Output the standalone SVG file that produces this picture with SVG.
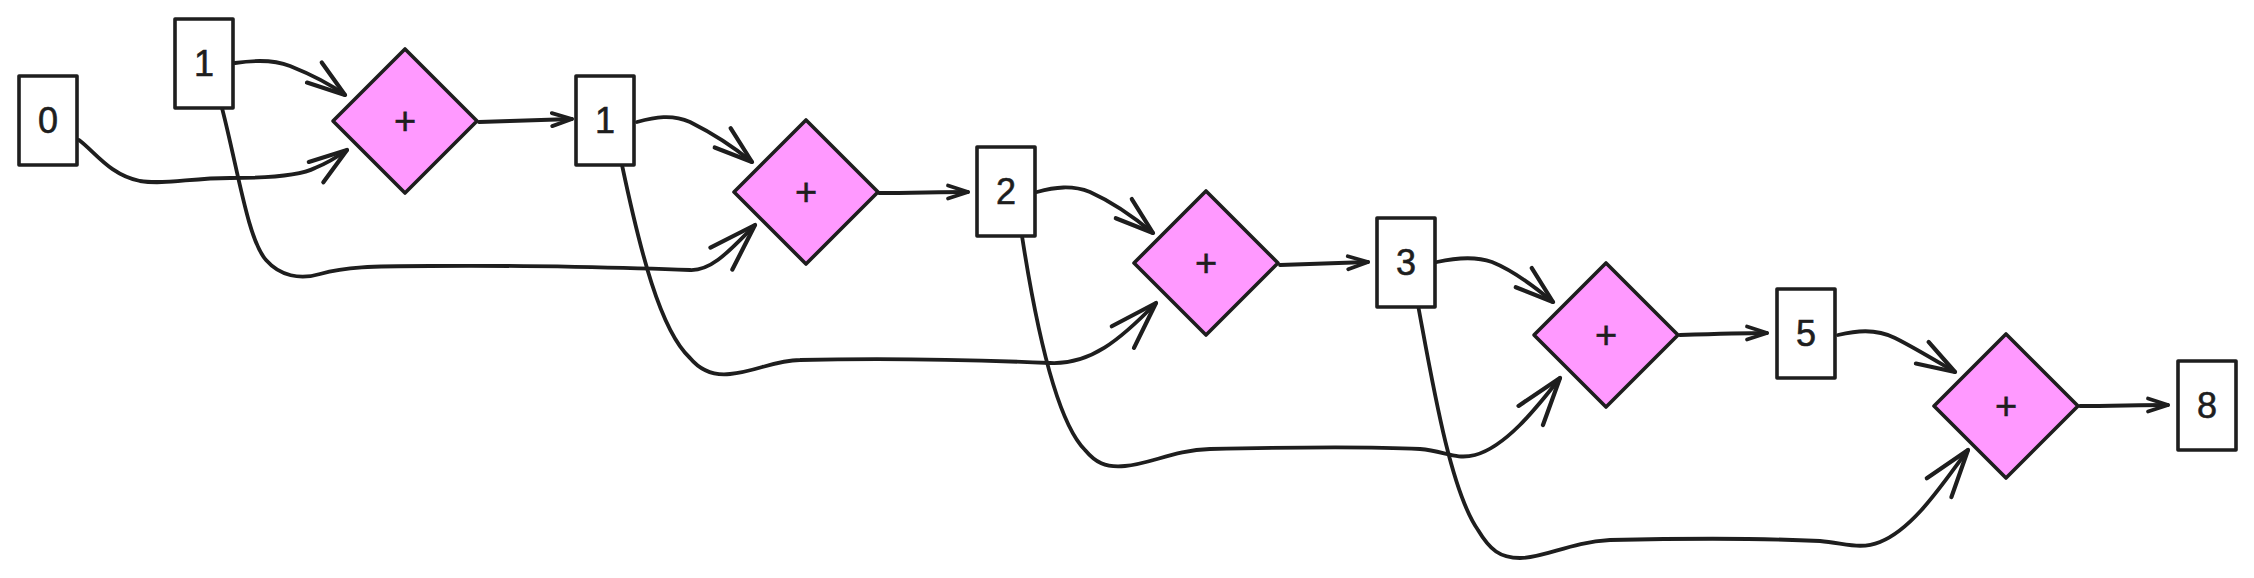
<svg xmlns="http://www.w3.org/2000/svg" width="2254" height="578" viewBox="0 0 2254 578">
<style>
.box{fill:#ffffff;stroke:#1e1e1e;stroke-width:3.6;stroke-linejoin:round}
.dia{fill:#ff99ff;stroke:#1e1e1e;stroke-width:3.6;stroke-linejoin:round}
.num{font-family:"Liberation Sans",Arial,sans-serif;font-size:36px;fill:#1e1e1e;text-anchor:middle;stroke:#1e1e1e;stroke-width:0.6}
.plus{font-family:"Liberation Sans",Arial,sans-serif;font-size:38px;fill:#1e1e1e;text-anchor:middle;stroke:#1e1e1e;stroke-width:0.6}
.con path{fill:none;stroke:#1e1e1e;stroke-width:3.8;stroke-linecap:round;stroke-linejoin:round}
.s{marker-end:url(#ahs)}
.b{marker-end:url(#ahb)}
.h{marker-end:url(#ahh)}
</style>
<defs>
<marker id="ahs" viewBox="-24 -10 28 20" markerWidth="28" markerHeight="20" refX="0" refY="0" orient="auto" markerUnits="userSpaceOnUse">
<path d="M-20,-6.5 L0,0 L-20,6.5" fill="none" stroke="#1e1e1e" stroke-width="3.8" stroke-linecap="round" stroke-linejoin="round"/>
</marker>
<marker id="ahb" viewBox="-42 -16 46 32" markerWidth="46" markerHeight="32" refX="0" refY="0" orient="auto" markerUnits="userSpaceOnUse">
<path d="M-38,-12.5 L0,0 L-38,12.5" fill="none" stroke="#1e1e1e" stroke-width="4.2" stroke-linecap="round" stroke-linejoin="round"/>
</marker>
<marker id="ahh" viewBox="-52 -20 56 40" markerWidth="56" markerHeight="40" refX="0" refY="0" orient="auto" markerUnits="userSpaceOnUse">
<path d="M-47.5,-15.5 L0,0 L-47.5,15.5" fill="none" stroke="#1e1e1e" stroke-width="4.2" stroke-linecap="round" stroke-linejoin="round"/>
</marker>
</defs>

<g id="connectors" class="con">
<!-- into diamond 1 -->
<path class="b" d="M235,63 C255,60 275,60 290,66 C310,74 330,84 345,95"/>
<path class="b" d="M79,140 C95,152 110,175 140,181 C165,185 190,178 230,178 C270,178 300,176 315,168 C330,162 340,155 347,150"/>
<path class="s" d="M479,122 C510,121 540,120 572,119"/>
<!-- into diamond 2 -->
<path class="b" d="M637,122 C655,117 672,114 690,122 C710,132 735,148 752,162"/>
<path class="h" d="M222,108 C238,170 248,240 266,260 C280,276 300,280 320,274 C345,267 370,266 430,266 C520,265 640,268 690,270 C712,271 730,250 755,225"/>
<path class="s" d="M879,193 C910,193 940,192 968,192"/>
<!-- into diamond 3 -->
<path class="b" d="M1037,192 C1055,187 1072,185 1090,192 C1110,201 1135,218 1153,233"/>
<path class="h" d="M622,165 C640,250 660,330 690,358 C700,370 712,376 730,374 C755,372 775,360 800,360 C880,358 980,360 1050,363 C1090,365 1120,340 1156,303"/>
<path class="s" d="M1280,265 C1310,264 1340,263 1368,262"/>
<!-- into diamond 4 -->
<path class="b" d="M1437,262 C1455,258 1475,256 1492,262 C1512,270 1535,287 1553,302"/>
<path class="h" d="M1022,236 C1035,320 1055,420 1085,450 C1095,462 1105,468 1125,466 C1150,464 1175,450 1210,449 C1300,447 1380,447 1420,449 C1445,451 1455,460 1475,455 C1505,447 1535,410 1560,378"/>
<path class="s" d="M1680,335 C1710,334 1740,333 1767,333"/>
<!-- into diamond 5 -->
<path class="b" d="M1838,335 C1855,331 1875,328 1895,338 C1915,348 1938,362 1955,372"/>
<path class="h" d="M1418,305 C1432,380 1450,490 1478,530 C1490,550 1500,558 1520,558 C1545,558 1570,542 1610,540 C1700,538 1780,539 1820,541 C1845,543 1860,550 1880,542 C1915,528 1945,480 1968,450"/>
<path class="s" d="M2080,406 C2110,406 2140,405 2168,405"/>
</g>

<g id="box-0"><rect class="box" x="19" y="76" width="58" height="89"/><text class="num" x="48" y="133">0</text></g>
<g id="box-1a"><rect class="box" x="175" y="19" width="58" height="89"/><text class="num" x="204" y="76">1</text></g>
<g id="add-1"><path class="dia" d="M405,49 L477,121 L405,193 L333,121 Z"/><text class="plus" x="405" y="134">+</text></g>
<g id="box-1b"><rect class="box" x="576" y="76" width="58" height="89"/><text class="num" x="605" y="133">1</text></g>
<g id="add-2"><path class="dia" d="M806,120 L878,192 L806,264 L734,192 Z"/><text class="plus" x="806" y="205">+</text></g>
<g id="box-2"><rect class="box" x="977" y="147" width="58" height="89"/><text class="num" x="1006" y="204">2</text></g>
<g id="add-3"><path class="dia" d="M1206,191 L1278,263 L1206,335 L1134,263 Z"/><text class="plus" x="1206" y="276">+</text></g>
<g id="box-3"><rect class="box" x="1377" y="218" width="58" height="89"/><text class="num" x="1406" y="275">3</text></g>
<g id="add-4"><path class="dia" d="M1606,263 L1678,335 L1606,407 L1534,335 Z"/><text class="plus" x="1606" y="348">+</text></g>
<g id="box-5"><rect class="box" x="1777" y="289" width="58" height="89"/><text class="num" x="1806" y="346">5</text></g>
<g id="add-5"><path class="dia" d="M2006,334 L2078,406 L2006,478 L1934,406 Z"/><text class="plus" x="2006" y="419">+</text></g>
<g id="box-8"><rect class="box" x="2178" y="361" width="58" height="89"/><text class="num" x="2207" y="418">8</text></g>
</svg>
